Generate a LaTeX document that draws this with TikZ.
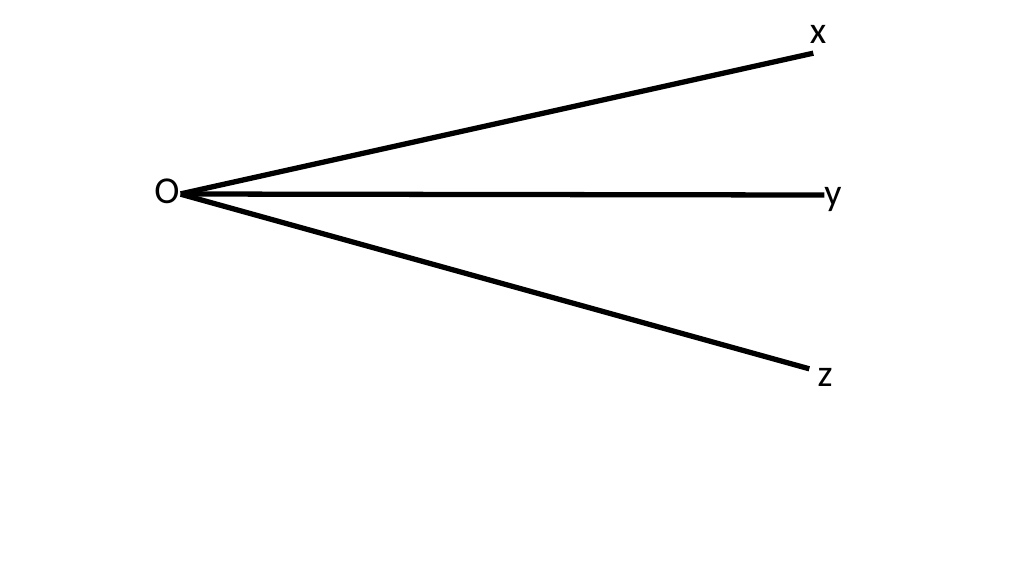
\documentclass[tikz,border=0pt]{standalone}
\usepackage{fontspec}
\setmainfont{Carlito}
\usepackage{tikz}
\tikzstyle{vertex}=[inner sep=0pt,minimum size=0pt]
\tikzstyle{axislabel}=[inner sep=0pt,font=\fontsize{10.8}{13}\selectfont]
\newcommand{\vertex}{\node[vertex]}

\begin{document}
\begin{tikzpicture}
		\useasboundingbox (0,0) rectangle (10.24,5.76);
		% % % % % % % % % % % % % % % % % % % % % % % % % % % % %
		\vertex  [] (o) at (1.80,3.82) [] {};
		\vertex  [] (xend) at (8.14,5.23) [] {};
		\vertex  [] (yend) at (8.25,3.81) [] {};
		\vertex  [] (zend) at (8.10,2.07) [] {};
		%*********************
		\node[axislabel] (lo) at (1.67,3.85) {O};
		\node[axislabel] (lx) at (8.18,5.42) {x};
		\node[axislabel] (ly) at (8.33,3.77) {y};
		\node[axislabel] (lz) at (8.25,1.99) {z};
		%*********************
		\path[line width=1.5pt]
		(o) edge [] (xend)
		(o) edge [] (yend)
		(o) edge [] (zend)
		;
\end{tikzpicture}
\end{document}
